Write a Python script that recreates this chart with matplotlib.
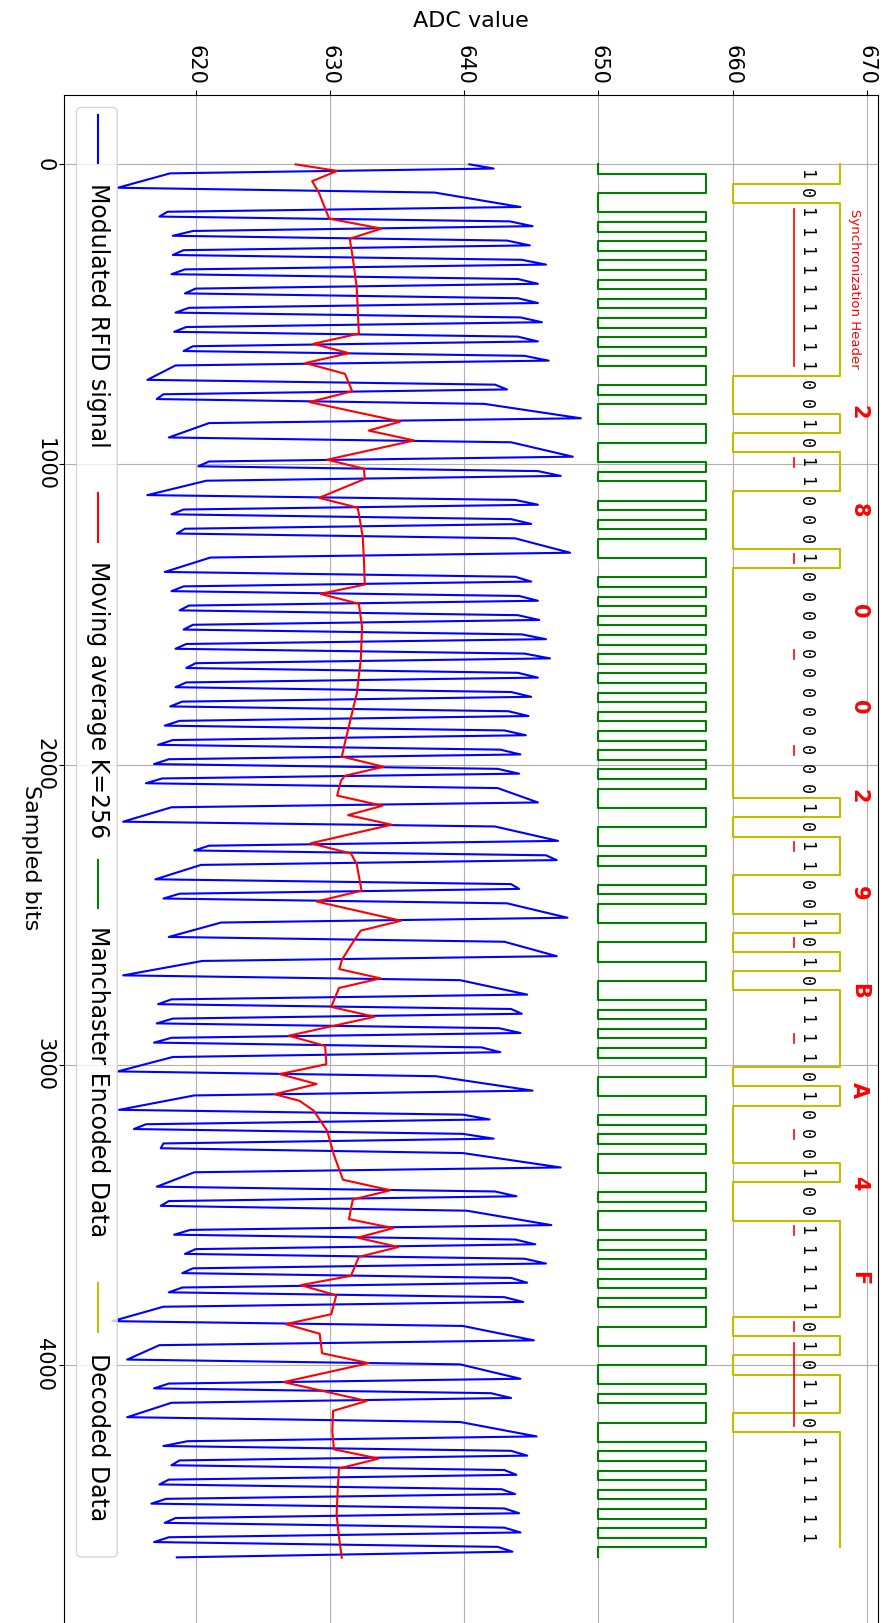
import numpy as np
import matplotlib
matplotlib.use("Agg")
import matplotlib.pyplot as plt
from matplotlib.patches import FancyBboxPatch
from matplotlib.lines import Line2D

# ---------------- data ----------------
# decoded EM4100 bit stream (one bit = 64 samples)
bits = [1, 0,
        1, 1, 1, 1, 1, 1, 1, 1, 1,
        0, 0, 1, 0, 1,
        1, 0, 0, 0, 1,
        0, 0, 0, 0, 0,
        0, 0, 0, 0, 0,
        0, 0, 1, 0, 1,
        1, 0, 0, 1, 0,
        1, 0, 1, 1, 1,
        1, 0, 1, 0, 0,
        0, 1, 0, 0, 1,
        1, 1, 1, 1, 0,
        1, 0, 1, 1, 0,
        1, 1, 1, 1, 1, 1]

# Manchester encoded half-bits (one half-bit = 32 samples)
manchester = ("0110" "010101010101010101"
              "1010011001" "0110101001" "1010101010" "1010101010"
              "1010011001" "0110100110" "0110010101" "0110011010"
              "1001101001" "0101010110" "0110010110"
              "010101010101" "0")

# modulated RFID signal: value at start / end of each level run
blue_start = [640.4, 618.1, 637.8, 617.9, 643.4, 619.8, 643.2, 619.1, 644.3, 619.2,
              644.0, 620.0, 644.0, 619.5, 644.2, 619.3, 644.0, 619.8, 644.5, 618.5,
              642.3, 617.6, 641.5, 621.0, 643.5, 621.0, 645.5, 620.8, 643.8, 619.1,
              643.5, 619.2, 643.8, 621.1, 643.8, 619.1, 644.1, 619.5, 644.0, 619.8,
              644.3, 619.3, 644.5, 620.0, 644.0, 619.3, 643.5, 619.0, 643.3, 618.8,
              643.0, 618.3, 642.7, 618.0, 642.5, 617.5, 642.5, 618.2, 642.3, 621.0,
              646.1, 620.4, 643.5, 618.8, 643.2, 621.9, 643.0, 620.5, 639.7, 618.2,
              643.5, 618.3, 642.6, 618.2, 641.3, 618.3, 637.9, 619.9, 639.9, 616.3,
              639.9, 617.6, 639.9, 619.9, 642.3, 618.0, 640.2, 619.6, 643.8, 620.0,
              644.5, 619.8, 643.5, 619.0, 643.0, 617.6, 639.9, 617.3, 639.7, 618.0,
              642.0, 618.2, 639.7, 619.4, 643.5, 618.8, 643.0, 618.0, 642.8, 617.8,
              643.0, 618.5, 643.0, 618.0, 642.5]
blue_end = [642.2, 614.2, 644.2, 617.3, 645.1, 618.3, 644.9, 618.3, 646.1, 618.2,
            645.5, 619.2, 645.5, 618.5, 645.8, 618.4, 645.5, 619.1, 646.3, 616.4,
            643.2, 617.1, 648.7, 618.0, 648.1, 620.2, 647.2, 616.4, 645.5, 618.2,
            645.0, 618.6, 647.9, 617.7, 645.0, 618.2, 645.5, 618.8, 645.6, 619.1,
            646.1, 618.5, 646.4, 619.3, 645.5, 618.5, 645.0, 618.1, 644.8, 617.7,
            644.6, 617.2, 644.2, 616.9, 644.1, 616.3, 645.5, 614.6, 647.0, 619.9,
            646.9, 617.0, 644.1, 617.6, 647.7, 618.0, 646.9, 614.6, 644.7, 617.2,
            644.3, 617.1, 644.2, 616.9, 642.7, 614.2, 645.1, 614.3, 641.9, 615.4,
            642.2, 617.4, 647.2, 617.1, 643.9, 617.4, 646.5, 618.4, 645.3, 619.2,
            646.1, 619.0, 644.7, 618.0, 644.4, 613.8, 645.2, 614.9, 644.2, 616.9,
            643.5, 614.9, 645.4, 617.6, 644.7, 618.2, 643.9, 617.3, 643.8, 616.7,
            644.1, 617.7, 644.2, 616.9, 643.6]
blue_last_sample = 4641
blue_last_value = 618.6

# moving average K=256 (vertices)
red_samples = [0, 22, 56, 96, 142, 181, 214, 248, 309, 409, 476, 564, 598, 629, 662,
               698, 756, 792, 857, 887, 920, 984, 1014, 1048, 1111, 1144, 1175, 1242,
               1320, 1400, 1431, 1464, 1542, 1653, 1764, 1875, 1931, 1973, 2007, 2037,
               2053, 2103, 2137, 2168, 2200, 2262, 2296, 2331, 2420, 2456, 2520, 2553,
               2600, 2650, 2681, 2712, 2744, 2807, 2840, 2903, 2937, 2998, 3031, 3064,
               3098, 3120, 3153, 3220, 3300, 3383, 3418, 3449, 3514, 3544, 3576, 3607,
               3640, 3703, 3734, 3768, 3831, 3864, 3896, 3961, 3994, 4057, 4120, 4153,
               4220, 4281, 4312, 4345, 4400, 4500, 4580, 4642]
red_values = [627.45, 630.54, 628.68, 629.2, 629.6, 629.95, 633.83, 631.48, 631.7, 632.0,
              632.07, 632.16, 628.77, 631.42, 628.18, 631.13, 631.66, 628.48, 635.25,
              632.89, 636.28, 629.8, 632.54, 632.6, 629.2, 632.07, 632.2, 632.45, 632.54,
              632.6, 629.3, 632.16, 632.4, 632.3, 632.0, 631.4, 631.1, 630.89, 634.0,
              631.13, 630.83, 630.54, 633.92, 631.36, 634.6, 628.57, 631.57, 632.0, 632.36,
              629.01, 635.3, 632.3, 631.6, 630.9, 630.7, 633.77, 630.68, 630.1, 633.33,
              626.95, 629.65, 629.74, 626.27, 629.01, 625.89, 627.74, 628.8, 629.8, 630.3,
              630.98, 634.51, 631.71, 631.42, 634.72, 632.07, 635.1, 632.16, 631.57,
              627.83, 630.48, 630.1, 626.71, 629.24, 629.42, 632.89, 626.56, 632.74,
              630.24, 630.18, 630.3, 633.63, 630.68, 630.6, 630.5, 630.7, 630.89]

hex_labels = ["2", "8", "0", "0", "2", "9", "B", "A", "4", "F"]
hex_samples = [826, 1152, 1490, 1810, 2104, 2427, 2755, 3084, 3394, 3710]
parity_bits = [15, 20, 25, 30, 35, 40, 45, 50, 55, 60]
header_span = (148, 673)
colparity_span = (3926, 4203)

legend_labels = ["Modulated RFID signal", "Moving average K=256",
                 "Manchaster Encoded Data", "Decoded Data"]

# ---------------- figure ----------------
W, H, DPI = 889, 1623, 100
fig = plt.figure(figsize=(W / DPI, H / DPI), dpi=DPI)
ax_l, ax_r, ax_t, ax_b = 64.1, 877.5, 95.0, 1627.0
ax = fig.add_axes([ax_l / W, 1 - ax_b / H, (ax_r - ax_l) / W, (ax_b - ax_t) / H])

BIT = 64
HALF = 32

# blue signal
m = [int(c) for c in manchester]
edges = [0] + [HALF * i for i in range(1, len(m)) if m[i] != m[i - 1]] + [HALF * len(m)]
by, bx = [], []
for j in range(len(blue_start)):
    s0 = edges[j] - 2 if j > 0 else 0
    s1 = edges[j + 1] - 18
    by += [s0, s1]
    bx += [blue_start[j], blue_end[j]]
by.append(blue_last_sample)
bx.append(blue_last_value)
ax.plot(bx, by, color="b", lw=1.5, zorder=3)

# moving average
ax.plot(red_values, red_samples, color="r", lw=1.5, zorder=4)

# manchester
g_edges = np.arange(len(m) + 1) * HALF
gy = np.repeat(g_edges, 2)[1:-1]
gx = np.repeat(650 + 8 * np.array(m), 2)
ax.plot(gx, gy, color="g", lw=1.5, zorder=3)

# decoded data
d_edges = np.arange(len(bits) + 1) * BIT
dy = np.repeat(d_edges, 2)[1:-1]
dx = np.repeat(660 + 8 * np.array(bits), 2)
ax.plot(dx, dy, color="y", lw=1.5, zorder=3)

# bit labels
for k, b in enumerate(bits):
    ax.text(665.5, BIT * k + HALF, str(b), rotation=270, ha="center", va="center",
            family="DejaVu Sans Mono", fontsize=12, zorder=5)
for k in parity_bits:
    c = BIT * k + HALF
    ax.plot([664.6, 664.6], [c - 15, c + 15], color="r", lw=1.2, zorder=5)
for span in (header_span, colparity_span):
    ax.plot([664.6, 664.6], list(span), color="r", lw=1.2, zorder=5)
for lab, s in zip(hex_labels, hex_samples):
    ax.text(669.4, s, lab, rotation=270, ha="center", va="center", color="r",
            fontweight="bold", fontsize=15, zorder=5)
ax.text(669.1, 416, "Synchronization Header", rotation=270, ha="center", va="center",
        color="r", fontsize=9.5, zorder=5)

# axes
ax.set_xlim(610.2, 670.8)
ax.set_ylim(4873, -231)
ax.set_xticks([620, 630, 640, 650, 660, 670])
ax.set_yticks([0, 1000, 2000, 3000, 4000])
ax.xaxis.tick_top()
ax.xaxis.set_label_position("top")
ax.tick_params(axis="x", labelrotation=270, labelsize=15)
ax.tick_params(axis="y", labelrotation=270, labelsize=15)
for lab in ax.get_yticklabels():
    lab.set_va("center")
ax.grid(True)
ax.set_xlabel("ADC value", fontsize=16)
ax.xaxis.set_label_coords(0.5, 1 + (ax_t - 20.8) / (ax_b - ax_t))
ax.xaxis.label.set_va("center")
ax.set_ylabel("Sampled bits", fontsize=16, rotation=270)
ax.yaxis.set_label_coords(-(ax_l - 31) / (ax_r - ax_l), 1 - (858 - ax_t) / (ax_b - ax_t))
ax.yaxis.label.set_va("center")
ax.yaxis.label.set_ha("center")

# hand-made vertical legend (pixel positions)
tr = fig.dpi_scale_trans
def px(x, y):
    return x / DPI, (H - y) / DPI

x0, y0 = px(76.5, 1557)
x1, y1 = px(117.3, 107.5)
frame = FancyBboxPatch((x0, y0), x1 - x0, y1 - y0,
                       boxstyle="round,pad=0,rounding_size=0.05",
                       transform=tr, facecolor="white", edgecolor="0.8",
                       alpha=0.8, lw=1.0, zorder=10)
fig.add_artist(frame)
handle_tops = [114.6, 493.0, 859.5, 1283.0]
text_tops = [182.6, 561.0, 925.5, 1353.0]
colors = ["b", "r", "g", "y"]
for lab, ht, tt, c in zip(legend_labels, handle_tops, text_tops, colors):
    hx, hy0 = px(98.3, ht)
    _, hy1 = px(98.3, ht + 48.5)
    fig.add_artist(Line2D([hx, hx], [hy0, hy1], color=c, lw=1.5, transform=tr, zorder=11))
    tx, ty = px(97.5, tt)
    fig.text(tx, ty, lab, transform=tr, rotation=270, ha="center", va="top",
             fontsize=17, zorder=12)

fig.savefig("out.png", dpi=DPI)
